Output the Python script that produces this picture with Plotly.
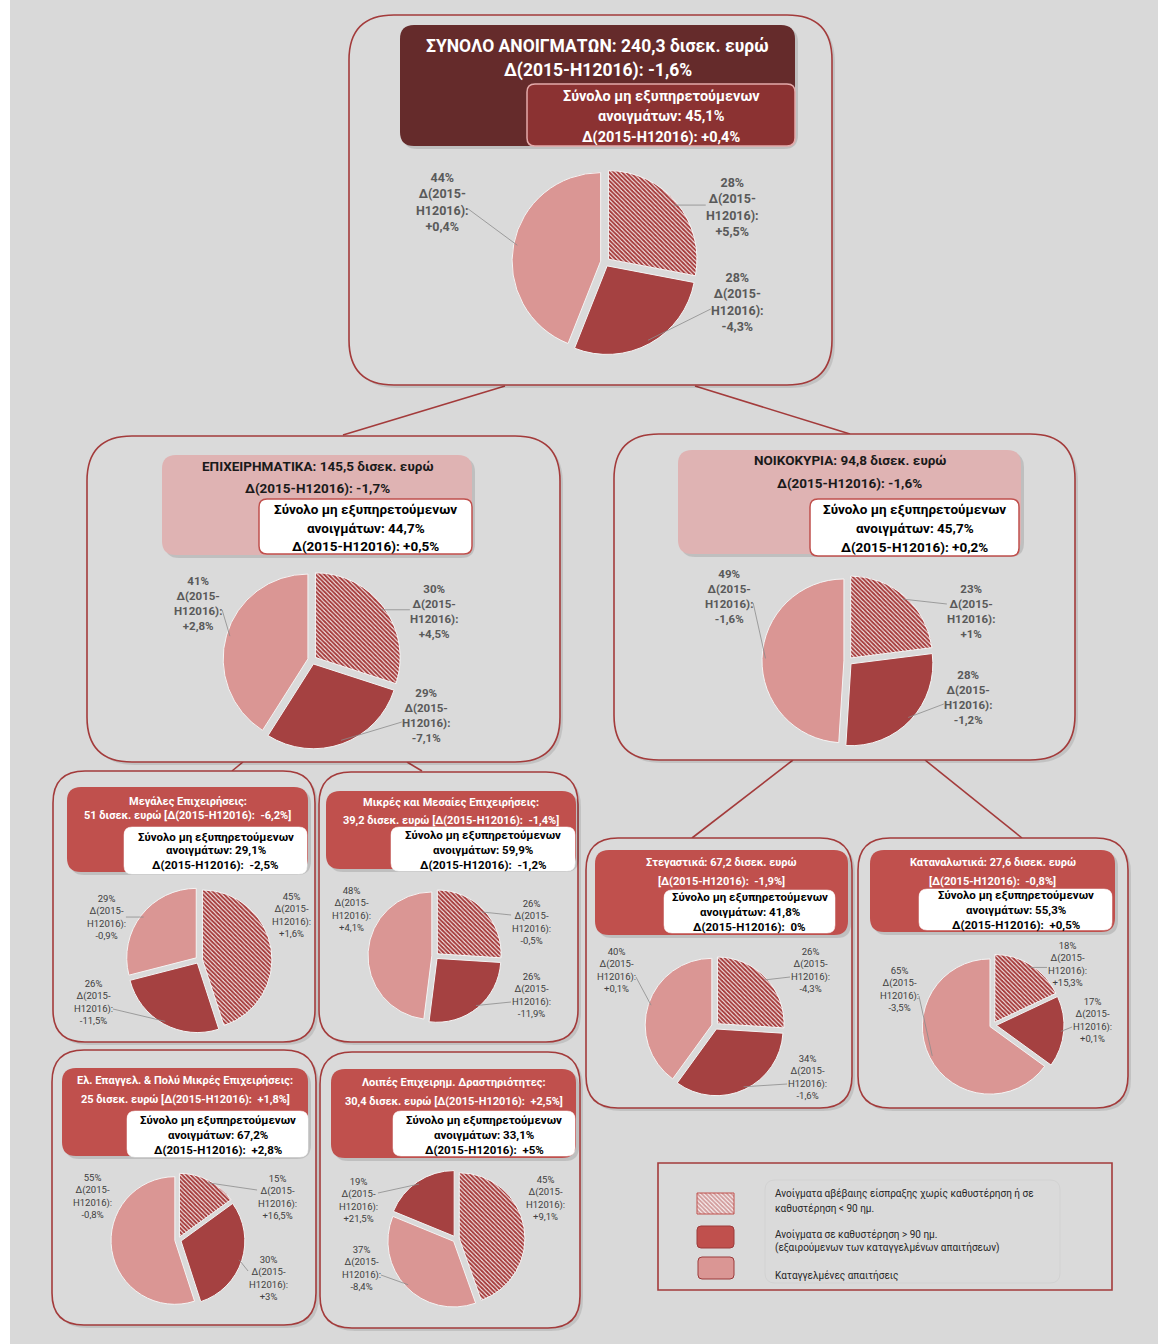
import math
import plotly.graph_objects as go

W, H = 1168, 1344
FONT = "Roboto, 'Noto Sans', sans-serif"

# ---------------- DATA ----------------
categories = [
    "Ανοίγματα αβέβαιης είσπραξης χωρίς καθυστέρηση ή σε καθυστέρηση < 90 ημ.",
    "Ανοίγματα σε καθυστέρηση > 90 ημ. (εξαιρούμενων των καταγγελμένων απαιτήσεων)",
    "Καταγγελμένες απαιτήσεις",
]
legend_lines = [
    ["Ανοίγματα αβέβαιης είσπραξης χωρίς καθυστέρηση ή σε", "καθυστέρηση < 90 ημ."],
    ["Ανοίγματα σε καθυστέρηση > 90 ημ.", "(εξαιρούμενων των καταγγελμένων απαιτήσεων)"],
    ["Καταγγελμένες απαιτήσεις"],
]

segment_titles = [
    "ΣΥΝΟΛΟ ΑΝΟΙΓΜΑΤΩΝ", "ΕΠΙΧΕΙΡΗΜΑΤΙΚΑ", "ΝΟΙΚΟΚΥΡΙΑ",
    "Μεγάλες Επιχειρήσεις", "Μικρές και Μεσαίες Επιχειρήσεις", "Στεγαστικά",
    "Καταναλωτικά", "Ελ. Επαγγελ. & Πολύ Μικρές Επιχειρήσεις", "Λοιπές Επιχειρημ. Δραστηριότητες",
]
segment_totals = ["240,3", "145,5", "94,8", "51", "39,2", "67,2", "27,6", "25", "30,4"]
segment_deltas = ["-1,6%", "-1,7%", "-1,6%", "-6,2%", "-1,4%", "-1,9%", "-0,8%", "+1,8%", "+2,5%"]
npe_ratio = ["45,1%", "44,7%", "45,7%", "29,1%", "59,9%", "41,8%", "55,3%", "67,2%", "33,1%"]
npe_delta = ["+0,4%", "+0,5%", "+0,2%", "-2,5%", "-1,2%", "0%", "+0,5%", "+2,8%", "+5%"]

# shares per category [uncertain <90d, >90d, denounced] and their changes
shares_total = [28, 28, 44]
deltas_total = ["+5,5%", "-4,3%", "+0,4%"]
shares_business = [30, 29, 41]
deltas_business = ["+4,5%", "-7,1%", "+2,8%"]
shares_households = [23, 28, 49]
deltas_households = ["+1%", "-1,2%", "-1,6%"]
shares_large = [45, 26, 29]
deltas_large = ["+1,6%", "-11,5%", "-0,9%"]
shares_sme = [26, 26, 48]
deltas_sme = ["-0,5%", "-11,9%", "+4,1%"]
shares_housing = [26, 34, 40]
deltas_housing = ["-4,3%", "-1,6%", "+0,1%"]
shares_consumer = [18, 17, 65]
deltas_consumer = ["+15,3%", "+0,1%", "-3,5%"]
shares_micro = [15, 30, 55]
deltas_micro = ["+16,5%", "+3%", "-0,8%"]
shares_other = [45, 19, 37]
deltas_other = ["+9,1%", "+21,5%", "-8,4%"]

all_shares = [shares_total, shares_business, shares_households, shares_large, shares_sme,
              shares_housing, shares_consumer, shares_micro, shares_other]
all_deltas = [deltas_total, deltas_business, deltas_households, deltas_large, deltas_sme,
              deltas_housing, deltas_consumer, deltas_micro, deltas_other]
# clockwise slice order (category indices)
slice_order = [[0, 1, 2]] * 8 + [[0, 2, 1]]

# ---------------- LAYOUT (positions / styles) ----------------
BG = "#d9d9d9"
BORDER = "#a33b3b"
C_HATCH_FG = "#a63d3d"
C_DARK = "#a54141"
C_LIGHT = "#da9694"
C_RED = "#c0504d"

pie_pos = [(605, 262, 93), (312, 660, 89), (848, 661, 86), (199, 960, 73), (435, 956, 67),
           (715, 1026, 70), (993, 1025, 71), (178, 1240, 67), (456, 1239, 69)]
label_pos = [
    [(732, 207), (737, 302), (442, 202)],
    [(434, 611), (426, 715), (198, 603)],
    [(971, 611), (968, 697), (729, 596)],
    [(291, 915), (93, 1002), (106, 917)],
    [(531, 922), (531, 995), (351, 909)],
    [(810, 970), (807, 1077), (616, 970)],
    [(1067, 964), (1092, 1020), (899, 989)],
    [(277, 1197), (268, 1278), (92, 1196)],
    [(545, 1198), (358, 1200), (361, 1268)],
]
outer_box = [(349, 15, 832, 385, 45), (87, 436, 560, 762, 45), (614, 434, 1075, 760, 45),
             (53, 771, 315, 1042, 32), (319, 772, 578, 1042, 32), (586, 838, 852, 1108, 32),
             (858, 838, 1128, 1108, 32), (52, 1050, 316, 1325, 32), (320, 1052, 580, 1328, 32)]
title_box = [(400, 25, 795, 146), (162, 455, 472, 555), (678, 450, 1021, 554), (67, 787, 308, 872),
             (326, 791, 576, 869), (595, 850, 848, 935), (870, 850, 1115, 932), (62, 1068, 308, 1156),
             (331, 1069, 576, 1158)]
inner_box = [(527, 84, 795, 146), (259, 499, 472, 554), (810, 499, 1019, 556), (124, 827, 307, 874),
             (391, 827, 575, 871), (664, 890, 835, 933), (919, 889, 1112, 930), (127, 1111, 308, 1157),
             (393, 1111, 575, 1156)]
title_y = [(46, 70), (466, 488), (460, 483), (801, 815), (802, 820), (862, 881), (862, 881),
           (1080, 1099), (1082, 1101)]
inner_y = [(96, 116, 137), (509, 528, 546), (509, 528, 547), (837, 850, 865), (835, 850, 865),
           (897, 912, 927), (895, 910, 925), (1120, 1135, 1150), (1120, 1135, 1150)]
connectors = [((505, 386), (343, 435)), ((695, 386), (850, 434)), ((243, 762), (232, 771)),
              ((407, 762), (422, 771)), ((793, 760), (692, 838)), ((925, 760), (1022, 838))]


def rr(x0, y0, x1, y1, r):
    return (f"M{x0+r},{y0} L{x1-r},{y0} Q{x1},{y0} {x1},{y0+r} L{x1},{y1-r} "
            f"Q{x1},{y1} {x1-r},{y1} L{x0+r},{y1} Q{x0},{y1} {x0},{y1-r} "
            f"L{x0},{y0+r} Q{x0},{y0} {x0+r},{y0} Z")


shapes = []
annotations = []
fig = go.Figure()

# background
shapes.append(dict(type="rect", xref="x", yref="y", x0=10, x1=1158, y0=0, y1=H,
                   fillcolor=BG, line=dict(width=0), layer="below"))

# connectors
for (a, b) in connectors:
    shapes.append(dict(type="line", xref="x", yref="y", x0=a[0], y0=a[1], x1=b[0], y1=b[1],
                       line=dict(color=BORDER, width=1.6), layer="below"))

for i in range(9):
    x0, y0, x1, y1, r = outer_box[i]
    shapes.append(dict(type="path", xref="x", yref="y", path=rr(x0 + 3, y0 + 3, x1 + 3, y1 + 3, r),
                       fillcolor="rgba(0,0,0,0.10)", line=dict(width=0), layer="below"))
    shapes.append(dict(type="path", xref="x", yref="y", path=rr(x0, y0, x1, y1, r),
                       fillcolor="#dadada", line=dict(color=BORDER, width=1.6), layer="below"))
    big = i < 3
    tfill = "#652b2b" if i == 0 else ("#dfb3b3" if big else C_RED)
    tx0, ty0, tx1, ty1 = title_box[i]
    shapes.append(dict(type="path", xref="x", yref="y", path=rr(tx0 + 3, ty0 + 3, tx1 + 3, ty1 + 3, 14),
                       fillcolor="rgba(0,0,0,0.12)", line=dict(width=0), layer="below"))
    shapes.append(dict(type="path", xref="x", yref="y", path=rr(tx0, ty0, tx1, ty1, 14),
                       fillcolor=tfill, line=dict(width=0), layer="below"))
    ix0, iy0, ix1, iy1 = inner_box[i]
    if i == 0:
        ifill, iline, iw = "#8b3232", "#e3aaaa", 1.5
    elif big:
        ifill, iline, iw = "#ffffff", C_RED, 1.5
    else:
        ifill, iline, iw = "#ffffff", "#ffffff", 0.5
    shapes.append(dict(type="path", xref="x", yref="y", path=rr(ix0, iy0, ix1, iy1, 8),
                       fillcolor=ifill, line=dict(color=iline, width=iw), layer="below"))

    # title texts
    if i < 3:
        l1 = f"{segment_titles[i]}: {segment_totals[i]} δισεκ. ευρώ"
        l2 = f"Δ(2015-H12016): {segment_deltas[i]}"
    elif i in (5, 6):
        l1 = f"{segment_titles[i]}: {segment_totals[i]} δισεκ. ευρώ"
        l2 = f"[Δ(2015-H12016):  {segment_deltas[i]}]"
    else:
        l1 = f"{segment_titles[i]}:"
        l2 = f"{segment_totals[i]} δισεκ. ευρώ [Δ(2015-H12016):  {segment_deltas[i]}]"
    tsize = 17.5 if i == 0 else (13.5 if big else 11)
    tcol = "white" if (i == 0 or not big) else "#1a1a1a"
    tcx = (tx0 + tx1) / 2
    for txt, yy in zip([l1, l2], title_y[i]):
        annotations.append(dict(x=tcx, y=yy, xref="x", yref="y", text=f"<b>{txt}</b>", showarrow=False,
                                font=dict(family=FONT, size=tsize, color=tcol),
                                xanchor="center", yanchor="middle"))
    isize = 14.5 if i == 0 else (13.5 if big else 11.5)
    icol = "white" if i == 0 else "black"
    icx = (ix0 + ix1) / 2
    ilines = ["Σύνολο μη εξυπηρετούμενων", f"ανοιγμάτων: {npe_ratio[i]}",
              f"Δ(2015-H12016):  {npe_delta[i]}" if not big else f"Δ(2015-H12016): {npe_delta[i]}"]
    for txt, yy in zip(ilines, inner_y[i]):
        annotations.append(dict(x=icx, y=yy, xref="x", yref="y", text=f"<b>{txt}</b>", showarrow=False,
                                font=dict(family=FONT, size=isize, color=icol),
                                xanchor="center", yanchor="middle"))

# pies
PULL = 0.05
for i in range(9):
    cx, cy, R = pie_pos[i]
    order = slice_order[i]
    vals = [all_shares[i][k] for k in order]
    base_colors = ["#ffffff", C_DARK, C_LIGHT]
    colors = [base_colors[k] for k in order]
    shapes_pat = ["\\" if k == 0 else "" for k in order]
    fig.add_trace(go.Pie(
        values=vals, labels=[categories[k] for k in order], sort=False, direction="clockwise",
        rotation=0, pull=[PULL] * 3, textinfo="none", hoverinfo="skip", showlegend=False,
        marker=dict(colors=colors, line=dict(color="#f4f4f4", width=1),
                    pattern=dict(shape=shapes_pat, fgcolor=C_HATCH_FG, size=3, solidity=0.68)),
        domain=dict(x=[(cx - R) / W, (cx + R) / W], y=[1 - (cy + R) / H, 1 - (cy - R) / H]),
    ))
    total = sum(vals)
    big = i < 3
    fsize = 12.5 if i == 0 else (11.5 if big else 9.5)
    hw = fsize * 2.1
    cum = 0
    for k, v in zip(order, vals):
        mid = (cum + v / 2) / total * 2 * math.pi
        cum += v
        lx, ly = label_pos[i][k]
        txt = f"{all_shares[i][k]}%<br>Δ(2015-<br>H12016):<br>{all_deltas[i][k]}"
        if big:
            txt = f"<b>{txt}</b>"
        annotations.append(dict(x=lx, y=ly, xref="x", yref="y", text=txt, showarrow=False,
                                font=dict(family=FONT, size=fsize, color="#595959" if big else "#404040"),
                                xanchor="center", yanchor="middle", align="center"))
        sx = cx + R * 0.96 * math.sin(mid)
        sy = cy - R * 0.96 * math.cos(mid)
        side = 1 if lx > cx else -1
        ex = lx - side * hw
        ey = min(max(sy, ly - 7), ly + 7)
        if side * (ex - sx) > 6:
            shapes.append(dict(type="line", xref="x", yref="y", x0=sx, y0=sy, x1=ex, y1=ey,
                               line=dict(color="#8c8c8c", width=0.8), layer="above"))

# legend
shapes.append(dict(type="rect", xref="x", yref="y", x0=658, y0=1163, x1=1112, y1=1290,
                   fillcolor="#dadada", line=dict(color=BORDER, width=1.6), layer="below"))
shapes.append(dict(type="path", xref="x", yref="y", path=rr(765, 1180, 1060, 1283, 10),
                   fillcolor="rgba(0,0,0,0)", line=dict(color="#d2d2d2", width=1), layer="below"))
sw = [(697, 1193, 734, 1214), (697, 1226, 734, 1248), (698, 1257, 734, 1279)]
x0, y0, x1, y1 = sw[0]
fig.add_trace(go.Scatter(x=[x0, x1, x1, x0, x0], y=[y0, y0, y1, y1, y0], mode="lines", fill="toself",
                         fillcolor="#ffffff", line=dict(color=C_RED, width=1),
                         fillpattern=dict(shape="\\", fgcolor=C_HATCH_FG, size=3, solidity=0.68),
                         hoverinfo="skip", showlegend=False))
for (x0, y0, x1, y1), col in zip(sw[1:], [C_RED, C_LIGHT]):
    shapes.append(dict(type="path", xref="x", yref="y", path=rr(x0, y0, x1, y1, 4),
                       fillcolor=col, line=dict(color="#9b3a3a", width=1), layer="above"))
leg_y = [(1194, 1208), (1234, 1248), (1276,)]
for lines, ys in zip(legend_lines, leg_y):
    for t, yy in zip(lines, ys):
        annotations.append(dict(x=773, y=yy, xref="x", yref="y", text=t, showarrow=False,
                                font=dict(family=FONT, size=10, color="#262626"),
                                xanchor="left", yanchor="middle"))

fig.update_layout(
    width=W, height=H, margin=dict(l=0, r=0, t=0, b=0),
    paper_bgcolor="white", plot_bgcolor="rgba(0,0,0,0)",
    xaxis=dict(range=[0, W], visible=False, fixedrange=True, domain=[0, 1]),
    yaxis=dict(range=[H, 0], visible=False, fixedrange=True, domain=[0, 1]),
    shapes=shapes, annotations=annotations, showlegend=False,
)
fig.write_html("out.html", config={"displayModeBar": False},
               post_script="document.body.style.margin='0px';document.body.style.padding='0px';")
